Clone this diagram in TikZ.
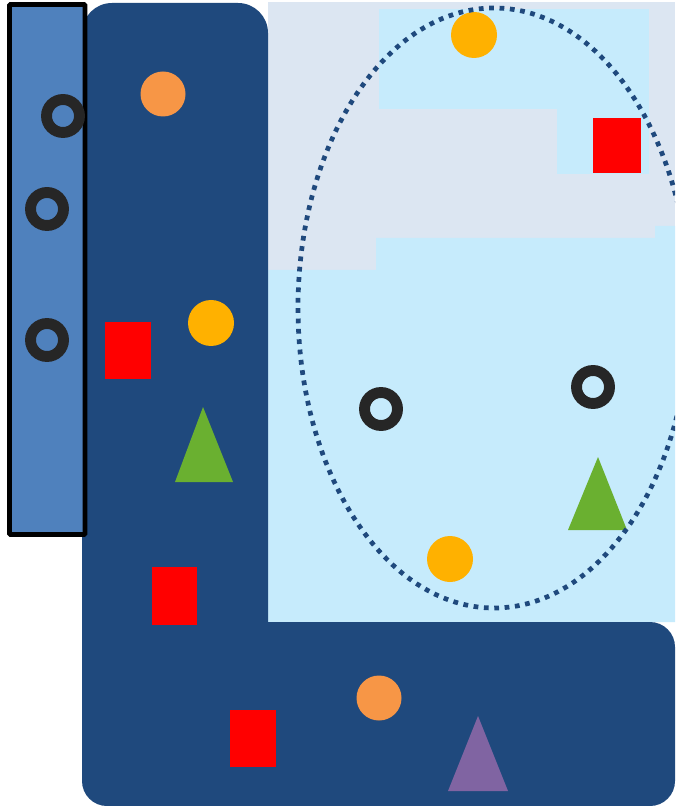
\documentclass[tikz,border=0pt]{standalone}
\usepackage{tikz}
\usetikzlibrary{arrows.meta,shapes,backgrounds,fit,positioning}
\usepackage{xcolor}

\definecolor{navy}{HTML}{1F497D}
\definecolor{midblue}{HTML}{4F81BD}
\definecolor{palegray}{HTML}{DCE6F2}
\definecolor{skyblue}{HTML}{C6EBFC}
\definecolor{tokenorange}{HTML}{F79646}
\definecolor{tokengold}{HTML}{FFB100}
\definecolor{tokengreen}{HTML}{6AB030}
\definecolor{tokenpurple}{HTML}{8064A2}
\definecolor{ringgray}{HTML}{262626}

\begin{document}
\begin{tikzpicture}[
  ring/.style={draw=ringgray, line width=6.2pt},
  token/.style={draw=none},
  zone/.style={draw=navy, line width=2.7pt, dash pattern=on 2.7pt off 3.2pt}
]
\clip (0.000000,0.000000) rectangle (13.500000,-16.120000);
\fill[white] (0.000000,0.000000) rectangle (13.500000,-16.120000);

%Background regions
\fill[palegray] (5.360000,-0.040000) rectangle (13.500000,-12.440000);
\fill[skyblue] (7.580000,-0.180000) rectangle (12.980000,-2.180000);
\fill[skyblue] (11.140000,-2.160000) rectangle (12.980000,-3.480000);
\fill[skyblue] (5.360000,-5.400000) -- (7.520000,-5.400000) -- (7.520000,-4.760000) -- (13.100000,-4.760000) -- (13.100000,-4.520000) -- (13.500000,-4.520000) -- (13.500000,-12.440000) -- (5.360000,-12.440000) -- cycle;

%Dark L-shaped band
\fill[navy, rounded corners=0.6cm] (1.640000,-0.060000) rectangle (5.360000,-14.000000);
\fill[navy, rounded corners=0.5cm] (1.640000,-12.440000) rectangle (13.500000,-16.120000);

%Left column
\filldraw[fill=midblue, draw=black, line width=2.7pt, rounded corners=0.5pt] (0.190000,-0.090000) rectangle (1.700000,-10.690000);

%Rings
\draw[ring] (1.260000,-2.320000) circle (0.330000);
\draw[ring] (0.940000,-4.180000) circle (0.330000);
\draw[ring] (0.940000,-6.800000) circle (0.330000);
\draw[ring] (7.620000,-8.180000) circle (0.330000);
\draw[ring] (11.860000,-7.740000) circle (0.330000);

%Orange circles
\fill[tokenorange] (3.260000,-1.880000) circle (0.450000);
\fill[tokenorange] (7.580000,-13.960000) circle (0.450000);

%Gold circles
\fill[tokengold] (9.480000,-0.700000) circle (0.460000);
\fill[tokengold] (4.220000,-6.460000) circle (0.460000);
\fill[tokengold] (9.000000,-11.180000) circle (0.460000);

%Red squares
\fill[red] (11.860000,-2.360000) rectangle (12.820000,-3.460000);
\fill[red] (2.100000,-6.440000) rectangle (3.020000,-7.580000);
\fill[red] (3.040000,-11.340000) rectangle (3.940000,-12.500000);
\fill[red] (4.600000,-14.200000) rectangle (5.520000,-15.340000);

%Triangles
\fill[tokengreen] (4.060000,-8.140000) -- (3.500000,-9.640000) -- (4.660000,-9.640000) -- cycle;
\fill[tokengreen] (11.960000,-9.140000) -- (11.360000,-10.600000) -- (12.540000,-10.600000) -- cycle;
\fill[tokenpurple] (9.560000,-14.320000) -- (8.960000,-15.820000) -- (10.160000,-15.820000) -- cycle;

%Dotted zone
\draw[zone] (9.880000,-6.160000) ellipse (3.920000 and 6.000000);
\end{tikzpicture}
\end{document}
